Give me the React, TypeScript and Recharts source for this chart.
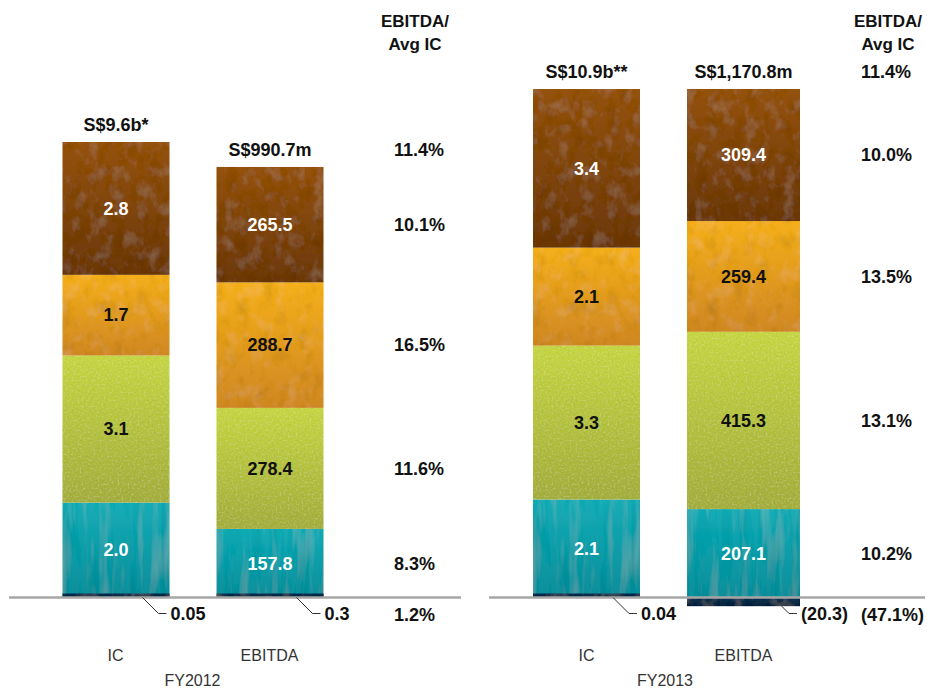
import { BarChart, Bar, XAxis, YAxis, ReferenceLine, LabelList, Label } from 'recharts';

const FONT = '"Liberation Sans", Arial, Helvetica, sans-serif';

// segment order, bottom to top
const segmentKeys = ['navy', 'teal', 'lime', 'amber', 'brown'];
const categories = ['IC', 'EBITDA'];

// FY2012
const fy2012Ic = [0.05, 2.0, 3.1, 1.7, 2.8];
const fy2012Ebitda = [0.3, 157.8, 278.4, 288.7, 265.5];
const fy2012Ratio = ['1.2%', '8.3%', '11.6%', '16.5%', '10.1%'];
const fy2012Totals = ['S$9.6b*', 'S$990.7m'];
const fy2012TotalRatio = '11.4%';

// FY2013
const fy2013Ic = [0.04, 2.1, 3.3, 2.1, 3.4];
const fy2013Ebitda = [-20.3, 207.1, 415.3, 259.4, 309.4];
const fy2013Ratio = ['(47.1%)', '10.2%', '13.1%', '13.5%', '10.0%'];
const fy2013Totals = ['S$10.9b**', 'S$1,170.8m'];
const fy2013TotalRatio = '11.4%';

const ratioHeader = ['EBITDA/', 'Avg IC'];

const segStyle: Record<string, { top: string; bottom: string; text: string; grain: string }> = {
  navy: { top: '#0e3353', bottom: '#08233a', text: '#111', grain: 'mottle' },
  teal: { top: '#14acb6', bottom: '#0a8e9a', text: '#fff', grain: 'streak' },
  lime: { top: '#c5d643', bottom: '#a3ae3c', text: '#111', grain: 'speck' },
  amber: { top: '#f5af1c', bottom: '#cf8722', text: '#111', grain: 'mottle' },
  brown: { top: '#94520d', bottom: '#6b3806', text: '#fff', grain: 'mottle' },
};

const fmt = (v: number) => {
  if (v < 0) return `(${Math.abs(v).toFixed(1)})`;
  if (v < 0.1) return v.toFixed(2);
  return v.toFixed(1);
};

function buildRows(ic: number[], eb: number[]) {
  const icRow: any = { cat: categories[0] };
  const ebRow: any = { cat: categories[1] };
  segmentKeys.forEach((k, i) => {
    icRow['ic_' + k] = ic[i];
    ebRow['eb_' + k] = eb[i];
  });
  return [icRow, ebRow];
}

const H = 688;
const BASE_Y = 597.5;
const PLOT_BOTTOM = 610;
const CAT_Y = 655;
const YEAR_Y = 680;

function box(p: any) {
  const vb = p.viewBox && p.viewBox.width != null ? p.viewBox : p;
  let { x, y, width, height } = vb;
  if (height < 0) {
    y += height;
    height = -height;
  }
  return { x, y, width, height };
}

const textProps = { fontFamily: FONT, fontSize: 18, fontWeight: 'bold' as const };

function texturedShape(key: string, panel: string) {
  return (p: any) => {
    let { x, y, width, height } = p;
    if (![x, y, width, height].every(Number.isFinite) || width <= 0 || height === 0) return <g />;
    if (height < 0) {
      y += height;
      height = -height;
    }
    return (
      <rect
        x={x}
        y={y}
        width={width}
        height={height}
        fill={`url(#${panel}-${key})`}
        filter={`url(#${panel}-${segStyle[key].grain})`}
      />
    );
  };
}

function CategoryTick(props: any) {
  const { x, payload } = props;
  return (
    <text x={x} y={CAT_Y} dy="0.35em" textAnchor="middle" fontFamily={FONT} fontSize={16} fill="#333">
      {payload.value}
    </text>
  );
}

// noise overlay: darker blotches + faint lighter ones, clipped to the bar
function Grain(props: { id: string; freq: string; octaves: number; seed: number; dark: number; light: number }) {
  const { id, freq, octaves, seed, dark, light } = props;
  return (
    <filter id={id} x="0" y="0" width="100%" height="100%">
      <feTurbulence type="fractalNoise" baseFrequency={freq} numOctaves={octaves} seed={seed} result="n" />
      <feColorMatrix in="n" type="matrix" values={`0 0 0 0 0  0 0 0 0 0  0 0 0 0 0  ${dark * 2} 0 0 0 ${-dark}`} result="dk" />
      <feColorMatrix in="n" type="matrix" values={`0 0 0 0 1  0 0 0 0 0.95  0 0 0 0 0.7  0 ${-light * 2} 0 0 ${light}`} result="lt" />
      <feComposite in="dk" in2="SourceGraphic" operator="in" result="dk2" />
      <feComposite in="lt" in2="SourceGraphic" operator="in" result="lt2" />
      <feMerge>
        <feMergeNode in="SourceGraphic" />
        <feMergeNode in="dk2" />
        <feMergeNode in="lt2" />
      </feMerge>
    </filter>
  );
}

function Panel(props: {
  id: string;
  left: number;
  width: number;
  plotLeft: number;
  plotRight: number;
  padL: number;
  padR: number;
  icPx: number;
  ebPx: number;
  icBar: number;
  ebBar: number;
  ratioX: number;
  headerX: number;
  year: string;
  ic: number[];
  eb: number[];
  ratios: string[];
  totals: string[];
  totalRatio: string;
}) {
  const p = props;
  const rows = buildRows(p.ic, p.eb);
  const icDomain = [-(PLOT_BOTTOM - BASE_Y) / p.icPx, BASE_Y / p.icPx];
  const ebDomain = [-(PLOT_BOTTOM - BASE_Y) / p.ebPx, BASE_Y / p.ebPx];
  const padding = { left: p.padL, right: p.padR };
  const groupCenter = p.plotLeft + p.padL + (p.plotRight - p.plotLeft - p.padL - p.padR) / 2;

  const segLabel = (key: string, kind: 'ic' | 'eb', i: number) => (lp: any) => {
    if (lp.value == null) return null;
    const { x, y, width, height } = box(lp);
    if (!Number.isFinite(x) || !Number.isFinite(y)) return null;
    const cx = x + width / 2;
    const mid = y + height / 2;
    const out: any[] = [
      <text key="v" x={cx} y={mid} dy="0.35em" textAnchor="middle" fill={segStyle[key].text} {...textProps}>
        {fmt(lp.value)}
      </text>,
    ];
    if (kind === 'eb') {
      out.push(
        <text key="r" x={p.ratioX} y={mid} dy="0.35em" textAnchor="start" fill="#111" {...textProps}>
          {p.ratios[i]}
        </text>
      );
    }
    if (key === 'brown') {
      out.push(
        <text key="t" x={cx} y={y - 17} dy="0.35em" textAnchor="middle" fill="#111" {...textProps}>
          {kind === 'ic' ? p.totals[0] : p.totals[1]}
        </text>
      );
      if (kind === 'eb') {
        out.push(
          <text key="tr" x={p.ratioX} y={y - 17} dy="0.35em" textAnchor="start" fill="#111" {...textProps}>
            {p.totalRatio}
          </text>
        );
      }
    }
    return <g>{out}</g>;
  };

  const navyLabel = (kind: 'ic' | 'eb') => (lp: any) => {
    if (lp.value == null) return null;
    const { x, y, width, height } = box(lp);
    if (!Number.isFinite(x) || !Number.isFinite(y)) return null;
    const bottom = y + height;
    const base = lp.value >= 0 ? bottom : y;
    const yl = base + 16;
    const tx = x + width + 1;
    const hs = tx - 12;
    const ds = hs - (yl - bottom);
    return (
      <g>
        <path d={`M${ds},${bottom}L${hs},${yl}L${tx - 4},${yl}`} stroke="#333" strokeWidth={1} fill="none" />
        <text x={tx} y={yl} dy="0.35em" textAnchor="start" fill="#111" {...textProps}>
          {fmt(lp.value)}
        </text>
        {kind === 'eb' && (
          <text x={p.ratioX} y={yl + 1} dy="0.35em" textAnchor="start" fill="#111" {...textProps}>
            {p.ratios[0]}
          </text>
        )}
      </g>
    );
  };

  return (
    <div style={{ position: 'absolute', left: p.left, top: 0, width: p.width, height: H }}>
      <div
        style={{
          position: 'absolute',
          left: p.headerX - 60,
          width: 120,
          top: 10,
          textAlign: 'center',
          fontFamily: FONT,
          fontWeight: 'bold',
          fontSize: 17,
          lineHeight: '23px',
          color: '#111',
        }}
      >
        {ratioHeader.map((t) => (
          <div key={t}>{t}</div>
        ))}
      </div>
      <BarChart
        width={p.width}
        height={H}
        data={rows}
        stackOffset="sign"
        margin={{ top: 0, right: p.width - p.plotRight, bottom: H - PLOT_BOTTOM - 30, left: p.plotLeft }}
      >
        <defs>
          {segmentKeys.map((k) => (
            <linearGradient key={k} id={`${p.id}-${k}`} x1="0" y1="0" x2="0" y2="1">
              <stop offset="0%" stopColor={segStyle[k].top} />
              <stop offset="100%" stopColor={segStyle[k].bottom} />
            </linearGradient>
          ))}
          <Grain id={`${p.id}-mottle`} freq="0.08 0.06" octaves={4} seed={4} dark={0.22} light={0.1} />
          <Grain id={`${p.id}-streak`} freq="0.1 0.012" octaves={3} seed={6} dark={0.18} light={0.12} />
          <Grain id={`${p.id}-speck`} freq="0.5" octaves={2} seed={9} dark={0.16} light={0.3} />
        </defs>
        <XAxis xAxisId="ic" dataKey="cat" padding={padding} axisLine={false} tickLine={false} tick={<CategoryTick />}>
          <Label
            content={() => (
              <text x={groupCenter} y={YEAR_Y} dy="0.35em" textAnchor="middle" fontFamily={FONT} fontSize={16} fill="#333">
                {p.year}
              </text>
            )}
          />
        </XAxis>
        <XAxis xAxisId="eb" dataKey="cat" padding={padding} hide />
        <XAxis xAxisId="icn" dataKey="cat" padding={padding} hide />
        <XAxis xAxisId="ebn" dataKey="cat" padding={padding} hide />
        <YAxis yAxisId="ic" hide domain={icDomain} allowDataOverflow />
        <YAxis yAxisId="eb" hide domain={ebDomain} allowDataOverflow />
        <ReferenceLine xAxisId="ic" yAxisId="ic" y={0} stroke="#a6a6a6" strokeWidth={2.5} />
        {segmentKeys.slice(1).map((k, j) => (
          <Bar
            key={'ic' + k}
            xAxisId="ic"
            yAxisId="ic"
            stackId="ic"
            dataKey={'ic_' + k}
            barSize={p.icBar}
            shape={texturedShape(k, p.id)}
            isAnimationActive={false}
          >
            <LabelList dataKey={'ic_' + k} content={segLabel(k, 'ic', j + 1)} />
          </Bar>
        ))}
        {segmentKeys.slice(1).map((k, j) => (
          <Bar
            key={'eb' + k}
            xAxisId="eb"
            yAxisId="eb"
            stackId="eb"
            dataKey={'eb_' + k}
            barSize={p.ebBar}
            shape={texturedShape(k, p.id)}
            isAnimationActive={false}
          >
            <LabelList dataKey={'eb_' + k} content={segLabel(k, 'eb', j + 1)} />
          </Bar>
        ))}
        <Bar
          xAxisId="icn"
          yAxisId="ic"
          dataKey="ic_navy"
          barSize={p.icBar}
          minPointSize={(v: any) => (v == null ? 0 : 4)}
          shape={texturedShape('navy', p.id)}
          isAnimationActive={false}
        >
          <LabelList dataKey="ic_navy" content={navyLabel('ic')} />
        </Bar>
        <Bar
          xAxisId="ebn"
          yAxisId="eb"
          dataKey="eb_navy"
          barSize={p.ebBar}
          minPointSize={(v: any) => (v == null ? 0 : 4)}
          shape={texturedShape('navy', p.id)}
          isAnimationActive={false}
        >
          <LabelList dataKey="eb_navy" content={navyLabel('eb')} />
        </Bar>
      </BarChart>
    </div>
  );
}

export default function App() {
  return (
    <div style={{ position: 'absolute', left: 0, top: 0, width: 927, height: H, background: '#fff', overflow: 'hidden' }}>
      <Panel
        id="p12"
        left={0}
        width={470}
        plotLeft={9}
        plotRight={461}
        padL={29.5}
        padR={114.5}
        icPx={47.45}
        ebPx={0.4347}
        icBar={107}
        ebBar={107}
        ratioX={394}
        headerX={415}
        year="FY2012"
        ic={fy2012Ic}
        eb={fy2012Ebitda}
        ratios={fy2012Ratio}
        totals={fy2012Totals}
        totalRatio={fy2012TotalRatio}
      />
      <Panel
        id="p13"
        left={470}
        width={457}
        plotLeft={19}
        plotRight={455}
        padL={19}
        padR={103}
        icPx={46.65}
        ebPx={0.4269}
        icBar={107}
        ebBar={113}
        ratioX={391}
        headerX={418}
        year="FY2013"
        ic={fy2013Ic}
        eb={fy2013Ebitda}
        ratios={fy2013Ratio}
        totals={fy2013Totals}
        totalRatio={fy2013TotalRatio}
      />
    </div>
  );
}
